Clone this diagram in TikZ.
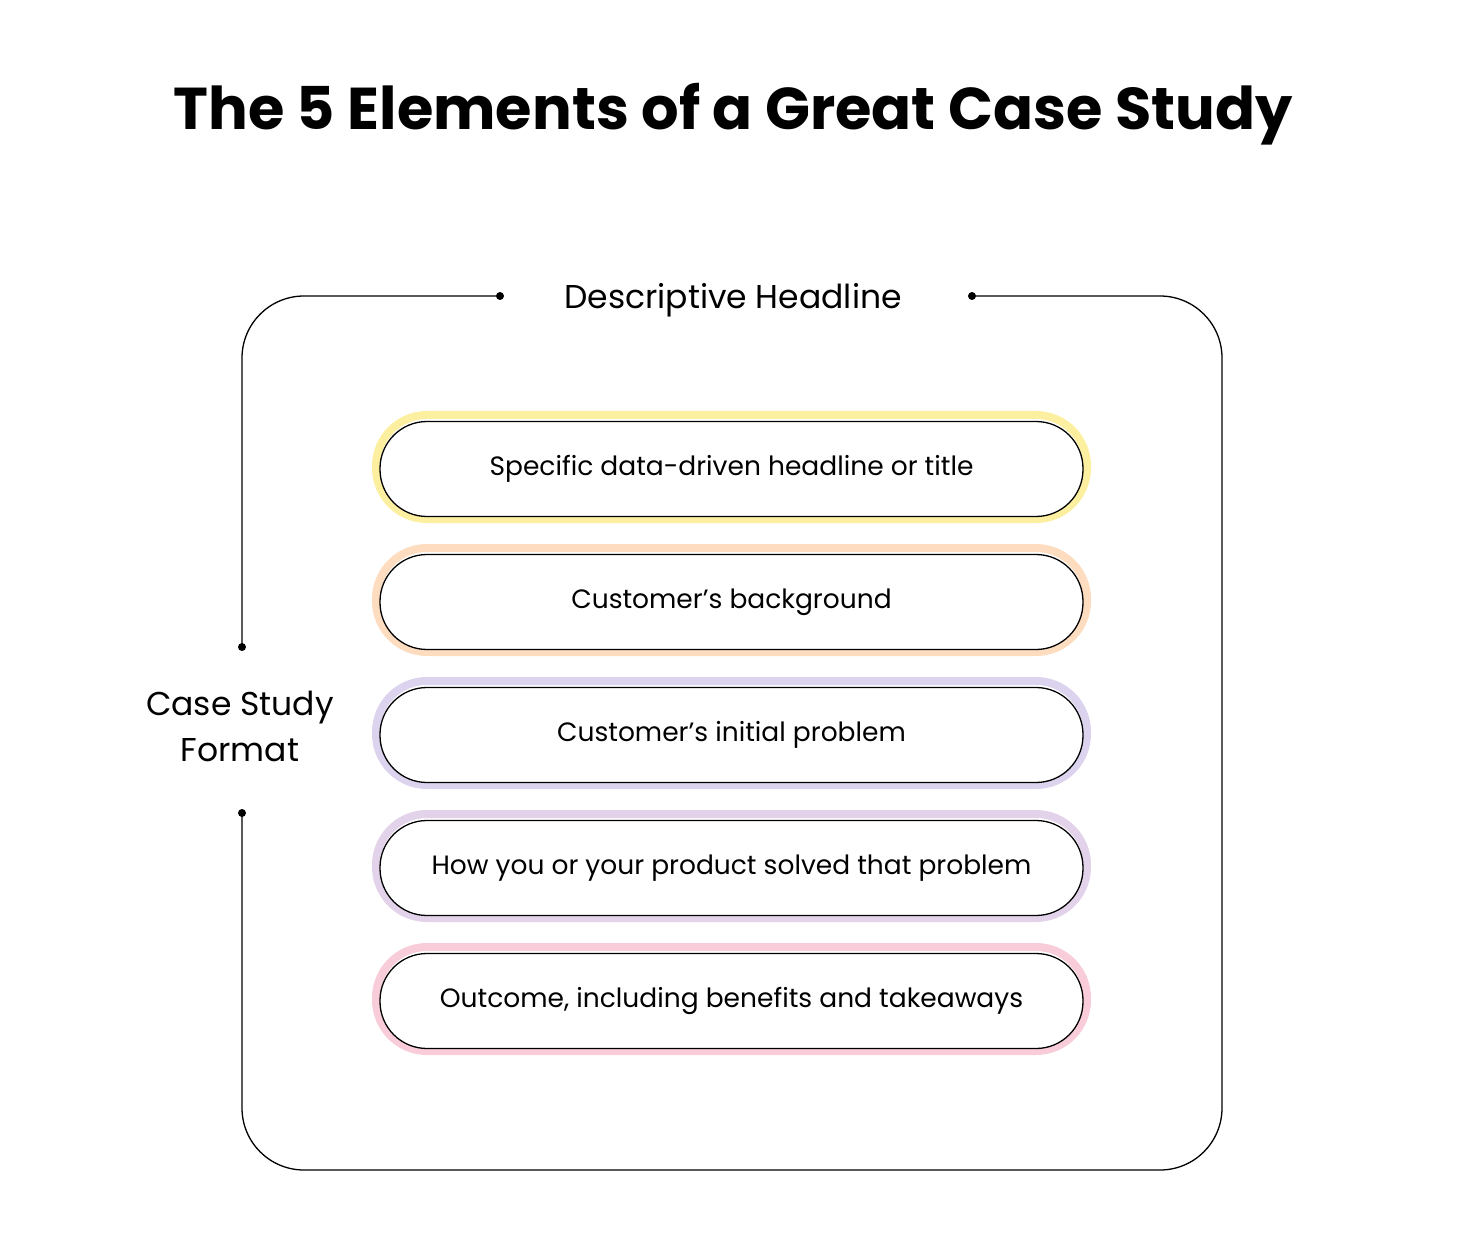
\documentclass[tikz,border=0pt]{standalone}
\usepackage{fontspec}
\setmainfont{Poppins}
\begin{document}
\begin{tikzpicture}[x=1pt,y=-1pt,
 pill/.style={draw=black,line width=1.3pt,rounded corners=47pt,fill=white,minimum width=703pt,minimum height=95pt,font=\fontsize{26.5}{30}\selectfont},
 glow/.style={line width=8pt,rounded corners=51pt},
 dot/.style={circle,fill=black,inner sep=0pt,minimum size=8pt},
 lbl/.style={font=\fontsize{33}{46}\selectfont,align=center}]
\useasboundingbox (0,0) rectangle (1468,1238);
\node[font=\bfseries\fontsize{59}{66}\selectfont] (title) at (733,114) {The 5 Elements of a Great Case Study};
\node[lbl] (head) at (733,300) {Descriptive Headline};
\node[lbl] (fmt) at (240,726) {Case Study\\Format};
\node[dot] (d1) at (500,296) {};
\node[dot] (d2) at (972,296) {};
\node[dot] (d3) at (242,647) {};
\node[dot] (d4) at (242,813) {};
\draw[line width=1.3pt,rounded corners=62pt] (d1.center) -- (242,296) -- (d3.center);
\draw[line width=1.3pt,rounded corners=62pt] (d2.center) -- (1222,296) -- (1222,1170) -- (242,1170) -- (d4.center);
\foreach \y/\c/\t [count=\i] in {467/FCEFA0/Specific data-driven headline or title,
 600/FDDCC0/Customer’s background,
 733/DCD3EE/Customer’s initial problem,
 866/E3D3EA/How you or your product solved that problem,
 999/F8CCD8/{Outcome, including benefits and takeaways}}{
 \definecolor{gc}{HTML}{\c}
 \draw[glow,draw=gc] (376,\y-52) rectangle (1087,\y+52);
 \node[pill] (p\i) at (731.5,\y+2) {\t};
}
\end{tikzpicture}
\end{document}
